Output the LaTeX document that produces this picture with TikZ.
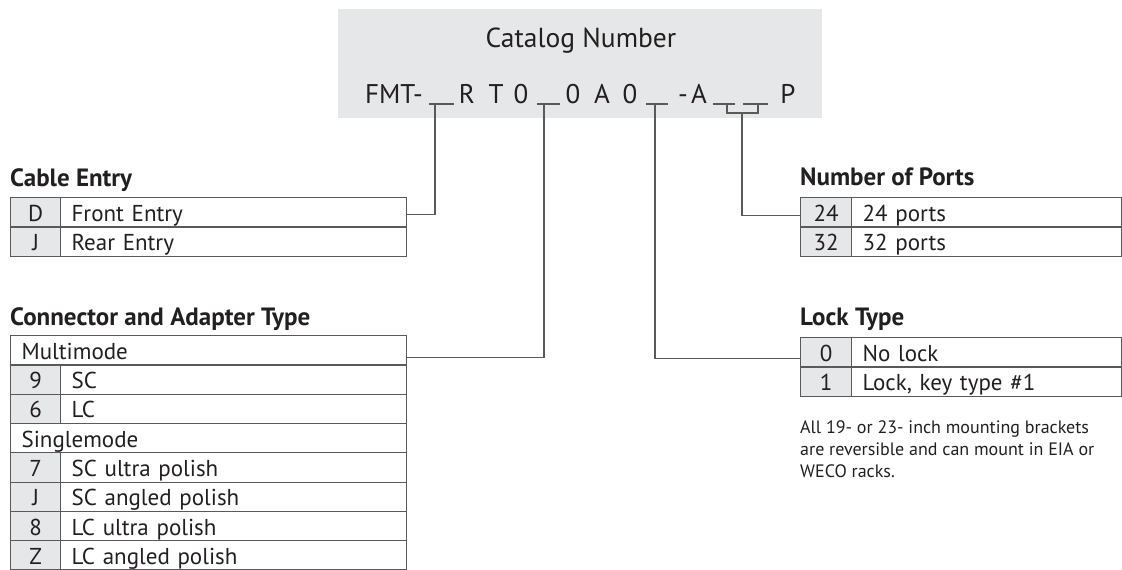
\documentclass[tikz,border=0pt]{standalone}
\usepackage{fontspec}
\setmainfont{PT Sans}
\definecolor{panelgrey}{HTML}{E6E7E8}
\definecolor{rulegrey}{HTML}{58595B}
\definecolor{inkgrey}{HTML}{231F20}
\begin{document}
\begin{tikzpicture}
[x=1pt,y=-1pt,
  codecell/.style={shape=rectangle,draw=rulegrey,line width=1.2pt,fill=panelgrey,
    anchor=north west,inner sep=0pt,minimum height=29.3pt,minimum width=#1,
    text=inkgrey,font=\fontsize{23}{23}\selectfont,text height=18pt,text depth=0pt},%
  desccell/.style={shape=rectangle,draw=rulegrey,line width=1.2pt,anchor=north west,
    inner xsep=11pt,inner ysep=5.65pt,text width=#1,align=left,
    text=inkgrey,font=\fontsize{23}{23}\selectfont,text height=18pt,text depth=0pt},%
  heading/.style={anchor=base west,inner sep=0pt,text=inkgrey,
    font=\bfseries\fontsize{25}{25}\selectfont},%
  codetext/.style={anchor=base,inner sep=0pt,text=inkgrey,font=\fontsize{27}{27}\selectfont},%
  linedecorate/.style={-,line width=1.2pt,draw=rulegrey}]
\useasboundingbox (0,0) rectangle (1122,570);
%% catalog number panel
\node (catalog) at (338,9) [shape=rectangle,fill=panelgrey,anchor=north west,
  inner sep=0pt,minimum width=484pt,minimum height=109pt] {};
\node (title) at (581,47) [codetext,font=\fontsize{27.5}{27.5}\selectfont] {Catalog Number};
\foreach \nodename/\x/\glyph in {fmt/394/FMT-, r/467/R, t/496/T, zeroa/521/0,
  zerob/573/0, a/602/A, zeroc/630/0, dash/683/-, ab/699/A, p/788/P} {
  \node (\nodename) at (\x,103) [codetext] {\glyph};
}
\foreach \xa/\xb in {429/454, 537/560, 646/668, 713/735, 743/768} {
  \draw[linedecorate] (\xa,104) -- (\xb,104);
}
\coordinate (tapentry) at (435,104);
\coordinate (tapconn) at (544,104);
\coordinate (taplock) at (655,104);
\coordinate (tapports) at (742,113);
\draw[linedecorate] (727,104) |- (tapports) -| (758,104);
%% cable entry
\node (entry) at (10,186) [heading] {Cable Entry};
\foreach \row/\code/\desc in {0/D/Front Entry, 1/J/Rear Entry} {
  \node (entry-code-\row) at (10,197+\row*29.3) [codecell=50pt] {\code};
  \node (entry-desc-\row) at (60,197+\row*29.3) [desccell=324pt] {\desc};
}
%% connector and adapter type
\node (conn) at (10,325) [heading] {Connector and Adapter Type};
\foreach \row/\desc in {0/Multimode, 3/Singlemode} {
  \node (conn-\row) at (10,335+\row*29.3) [desccell=374pt] {\desc};
}
\foreach \row/\code/\desc in {1/9/SC, 2/6/LC, 4/7/SC ultra polish,
  5/J/SC angled polish, 6/8/LC ultra polish, 7/Z/LC angled polish} {
  \node (conn-code-\row) at (10,335+\row*29.3) [codecell=50pt] {\code};
  \node (conn-\row) at (60,335+\row*29.3) [desccell=324pt] {\desc};
}
%% number of ports
\node (ports) at (800,185) [heading] {Number of Ports};
\foreach \row/\code/\desc in {0/24/24 ports, 1/32/32 ports} {
  \node (ports-code-\row) at (800,197+\row*29.3) [codecell=51pt] {\code};
  \node (ports-desc-\row) at (851,197+\row*29.3) [desccell=248pt] {\desc};
}
%% lock type
\node (lock) at (800,325) [heading] {Lock Type};
\foreach \row/\code/\desc in {{0/0/No lock}, {1/1/Lock, key type \#1}} {
  \node (lock-code-\row) at (800,337+\row*29.3) [codecell=51pt] {\code};
  \node (lock-desc-\row) at (851,337+\row*29.3) [desccell=248pt] {\desc};
}
\node (note) at (800,420) [anchor=north west,inner sep=0pt,align=left,text=inkgrey,
  font=\fontsize{18}{22}\selectfont] {All 19- or 23- inch mounting brackets\\
  are reversible and can mount in EIA or\\ WECO racks.};
%% connectors
\draw[linedecorate] (tapentry) |- ([yshift=-2pt]entry-desc-0.east);
\draw[linedecorate] (tapconn) |- ([yshift=-7pt]conn-0.east);
\draw[linedecorate] (taplock) |- ([yshift=-6pt]lock-code-0.west);
\draw[linedecorate] (tapports) |- ([yshift=-3pt]ports-code-0.west);
\end{tikzpicture}
\end{document}
